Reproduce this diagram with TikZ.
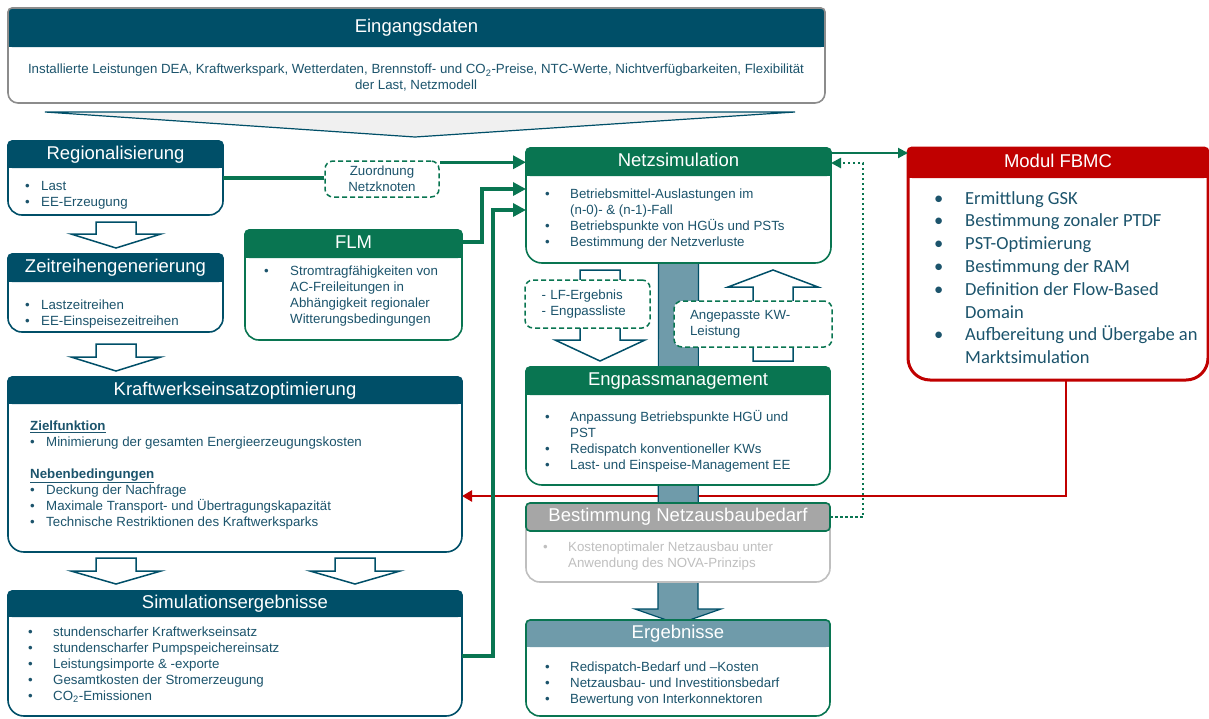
\documentclass[tikz,border=0pt]{standalone}
\usepackage{fontspec}
\setmainfont{Liberation Sans}
\newfontfamily\fbmcfont{Carlito}
\usetikzlibrary{arrows.meta}
\pgfdeclarelayer{bg}
\pgfsetlayers{bg,main}

\definecolor{petrol}{RGB}{0,79,104}
\definecolor{gruen}{RGB}{9,117,81}
\definecolor{rot}{RGB}{192,0,0}
\definecolor{grau}{RGB}{166,166,166}
\definecolor{hellgrau}{RGB}{191,191,191}
\definecolor{randgrau}{RGB}{140,140,140}
\definecolor{blaugrau}{RGB}{111,155,170}
\definecolor{schrift}{RGB}{28,84,108}
\definecolor{trichter}{RGB}{240,240,240}

\newcommand{\bl}[1]{\makebox[#1pt][l]{\textbullet}}
\newcommand{\boxpath}[2]{(#1.north) [rounded corners=4pt] -- (#1.north east) -- (#1.east) [rounded corners=#2pt] -- (#1.south east) -- (#1.south west) -- (#1.west) [rounded corners=4pt] -- (#1.north west) -- cycle}
% name, corner, width, height, header height, header colour, frame, radius, title
\newcommand{\panel}[9]{%
  \node[frame, minimum width=#3, minimum height=#4] (#1) at #2 {};
  \fill[white] \boxpath{#1}{#8};
  \fill[#6, rounded corners=4pt] (#1.north west) rectangle ([yshift=-#5pt]#1.north east);
  \fill[#6] ([yshift=-8pt]#1.north west) rectangle ([yshift=-#5pt]#1.north east);
  \draw[rand, #7] \boxpath{#1}{#8};
  \node[head] (#1-t) at ([yshift=-0.5*#5pt]#1.north) {#9};
}
\newcommand{\blockpfeil}[4]{\filldraw[hohl] (#1-20,#2) -- (#1+20,#2) -- (#1+20,#3) -- (#1+45,#3) -- (#1,#4) -- (#1-45,#3) -- (#1-20,#3) -- cycle;}

\begin{document}
\begin{tikzpicture}[x=1pt, y=-1pt,
  frame/.style={anchor=north west, inner sep=0pt, outer sep=0pt},
  rand/.style={line width=1.6pt},
  head/.style={text=white, font=\fontsize{18.5}{20}\selectfont, text height=13pt, text depth=3.6pt, inner sep=0pt},
  body/.style={anchor=north west, align=left, inner sep=0pt, text=schrift, font=\fontsize{13.3}{16}\selectfont},
  strich/.style={draw=gruen, fill=white, line width=1.5pt, dash pattern=on 5pt off 3pt, rounded corners=8pt, text=schrift, font=\fontsize{13.3}{16}\selectfont, inner sep=0pt},
  hohl/.style={fill=white, draw=petrol, line width=1.5pt},
  verb/.style={gruen, line width=3.5pt},
  duenn/.style={gruen, line width=2pt},
  punkt/.style={gruen, line width=2.5pt, dash pattern=on 2.5pt off 2.5pt},
  pfeil/.style={-{Triangle[length=13pt,width=13pt]}},
  pfeil2/.style={-{Triangle[length=10pt,width=10pt]}},
  rotlinie/.style={rot, line width=2.6pt, -{Triangle[length=10pt,width=11pt]}}]
\useasboundingbox (0,0) rectangle (1209,718);

\panel{ein}{(8,8)}{817}{95}{39}{petrol}{randgrau}{10}{Eingangsdaten}
\node[body, anchor=center, align=center, font=\fontsize{13.3}{16}\selectfont] (ein-b) at (416,78) {Installierte Leistungen DEA, Kraftwerkspark, Wetterdaten, Brennstoff- und CO\textsubscript{2}-Preise, NTC-Werte, Nichtverfügbarkeiten, Flexibilität\\der Last, Netzmodell};
\filldraw[fill=trichter, draw=petrol, line width=1.2pt] (45,112) -- (795,112) -- (415,137) -- cycle;

% linke Spalte
\panel{regio}{(8,141)}{215}{74}{27}{petrol}{petrol}{14}{Regionalisierung}
\node[body] (regio-b) at (25,181.5) {\bl{16}Last\\\bl{16}EE-Erzeugung};
\blockpfeil{116}{222}{234}{248}
\panel{zeit}{(8,254)}{215}{78}{28}{petrol}{petrol}{14}{Zeitreihengenerierung}
\node[body] (zeit-b) at (25,299.5) {\bl{16}Lastzeitreihen\\\bl{16}EE-Einspeisezeitreihen};
\blockpfeil{116}{344}{357}{371}
\panel{kwo}{(8,377)}{454}{175}{27}{petrol}{petrol}{16}{Kraftwerkseinsatzoptimierung}
\node[body] (kwo-b) at (30,420.5) {\underline{\textbf{Zielfunktion}}\\\bl{16}Minimierung der gesamten Energieerzeugungskosten\\[16pt]\underline{\textbf{Nebenbedingungen}}\\\bl{16}Deckung der Nachfrage\\\bl{16}Maximale Transport- und Übertragungskapazität\\\bl{16}Technische Restriktionen des Kraftwerksparks};
\blockpfeil{116}{558}{571}{584}
\blockpfeil{355}{558}{571}{584}
\panel{simerg}{(8,591)}{454}{125}{26}{petrol}{petrol}{16}{Simulationsergebnisse}
\node[body] (simerg-b) at (28,626.5) {\bl{25}stundenscharfer Kraftwerkseinsatz\\\bl{25}stundenscharfer Pumpspeichereinsatz\\\bl{25}Leistungsimporte \& -exporte\\\bl{25}Gesamtkosten der Stromerzeugung\\\bl{25}CO\textsubscript{2}-Emissionen};

\panel{flm}{(245,230)}{217}{110}{28}{gruen}{gruen}{14}{FLM}
\node[body] (flm-b) at (264,265.5) {\bl{26}Stromtragfähigkeiten von\\\hspace*{26pt}AC-Freileitungen in\\\hspace*{26pt}Abhängigkeit regionaler\\\hspace*{26pt}Witterungsbedingungen};

% mittlere Spalte
\panel{netz}{(526,148)}{305}{115}{28}{gruen}{gruen}{16}{Netzsimulation}
\node[body] (netz-b) at (545,188.5) {\bl{25}Betriebsmittel-Auslastungen im\\\hspace*{25pt}(n-0)- \& (n-1)-Fall\\\bl{25}Betriebspunkte von HGÜs und PSTs\\\bl{25}Bestimmung der Netzverluste};
\panel{engpass}{(526,367)}{304}{118}{28}{gruen}{gruen}{16}{Engpassmanagement}
\node[body] (engpass-b) at (545,410.5) {\bl{25}Anpassung Betriebspunkte HGÜ und\\\hspace*{25pt}PST\\\bl{25}Redispatch konventioneller KWs\\\bl{25}Last- und Einspeise-Management EE};
\panel{ausbau}{(526,503)}{304}{79}{28}{grau}{hellgrau}{14}{Bestimmung Netzausbaubedarf}
\draw[gruen, line width=1.6pt, rounded corners=4pt] (ausbau.north west) rectangle ([yshift=-28pt]ausbau.north east);
\node[body, text=hellgrau] (ausbau-b) at (543,541.5) {\bl{25}Kostenoptimaler Netzausbau unter\\\hspace*{25pt}Anwendung des NOVA-Prinzips};
\panel{erg}{(526,620)}{304}{96}{27}{blaugrau}{gruen}{14}{Ergebnisse}
\node[body] (erg-b) at (545,661.5) {\bl{25}Redispatch-Bedarf und –Kosten\\\bl{25}Netzausbau- und Investitionsbedarf\\\bl{25}Bewertung von Interkonnektoren};

\blockpfeil{600}{270}{340}{361}
\blockpfeil{773}{361}{287}{270}
\node[strich, minimum width=125, minimum height=48, text width=92, align=left] (lfbox) at (587.5,304) {- LF-Ergebnis\\- Engpassliste};
\node[strich, minimum width=158, minimum height=46, text width=126, align=left] (kwbox) at (753,324) {Angepasste KW-\\Leistung};

% rechts
\panel{fbmc}{(908,148)}{300}{232}{30}{rot}{rot, line width=3pt}{22}{Modul FBMC}
\node[body, font=\fbmcfont\fontsize{18.5}{22.8}\selectfont] (fbmc-b) at (934,191) {\bl{31}Ermittlung GSK\\\bl{31}Bestimmung zonaler PTDF\\\bl{31}PST-Optimierung\\\bl{31}Bestimmung der RAM\\\bl{31}Definition der Flow-Based\\\hspace*{31pt}Domain\\\bl{31}Aufbereitung und Übergabe an\\\hspace*{31pt}Marktsimulation};

% Verbindungen
\node[strich, minimum width=114, minimum height=36, align=center] (zuord) at (382,179) {Zuordnung\\Netzknoten};
\coordinate (z1) at ([yshift=-2pt]zuord.north east);
\coordinate (n2) at ([yshift=-41pt]netz.north west);
\coordinate (n3) at ([yshift=-62pt]netz.north west);
\coordinate (n4) at ([yshift=-5pt]netz.north east);
\coordinate (n5) at ([yshift=-15pt]netz.north east);
\coordinate (k1) at ([yshift=-119pt]kwo.north east);
\draw[verb] (regio.east) -- (regio.east -| zuord.west);
\draw[verb, pfeil] (z1) -- (z1 -| netz.west);
\draw[verb, pfeil] ([yshift=-12pt]flm.north east) -- ++(20,0) |- (n2);
\draw[verb, pfeil] ([yshift=-65pt]simerg.north east) -- ++(31,0) |- (n3);
\draw[duenn, pfeil2] (n4) -- (n4 -| fbmc.west);
\draw[punkt, pfeil2] ([yshift=-14pt]ausbau.north east) -- ++(33,0) |- (n5);

\begin{pgfonlayer}{bg}
\draw[rotlinie] ([xshift=8pt]fbmc.south) |- (k1);
\filldraw[fill=blaugrau, draw=petrol, line width=1.2pt] ([xshift=-20pt]netz.south) -- ([xshift=-20pt,yshift=11pt]erg.north) -- ([xshift=-43pt,yshift=11pt]erg.north) -- ([yshift=-4pt]erg.north) -- ([xshift=43pt,yshift=11pt]erg.north) -- ([xshift=20pt,yshift=11pt]erg.north) -- ([xshift=20pt]netz.south) -- cycle;
\end{pgfonlayer}
\end{tikzpicture}
\end{document}
